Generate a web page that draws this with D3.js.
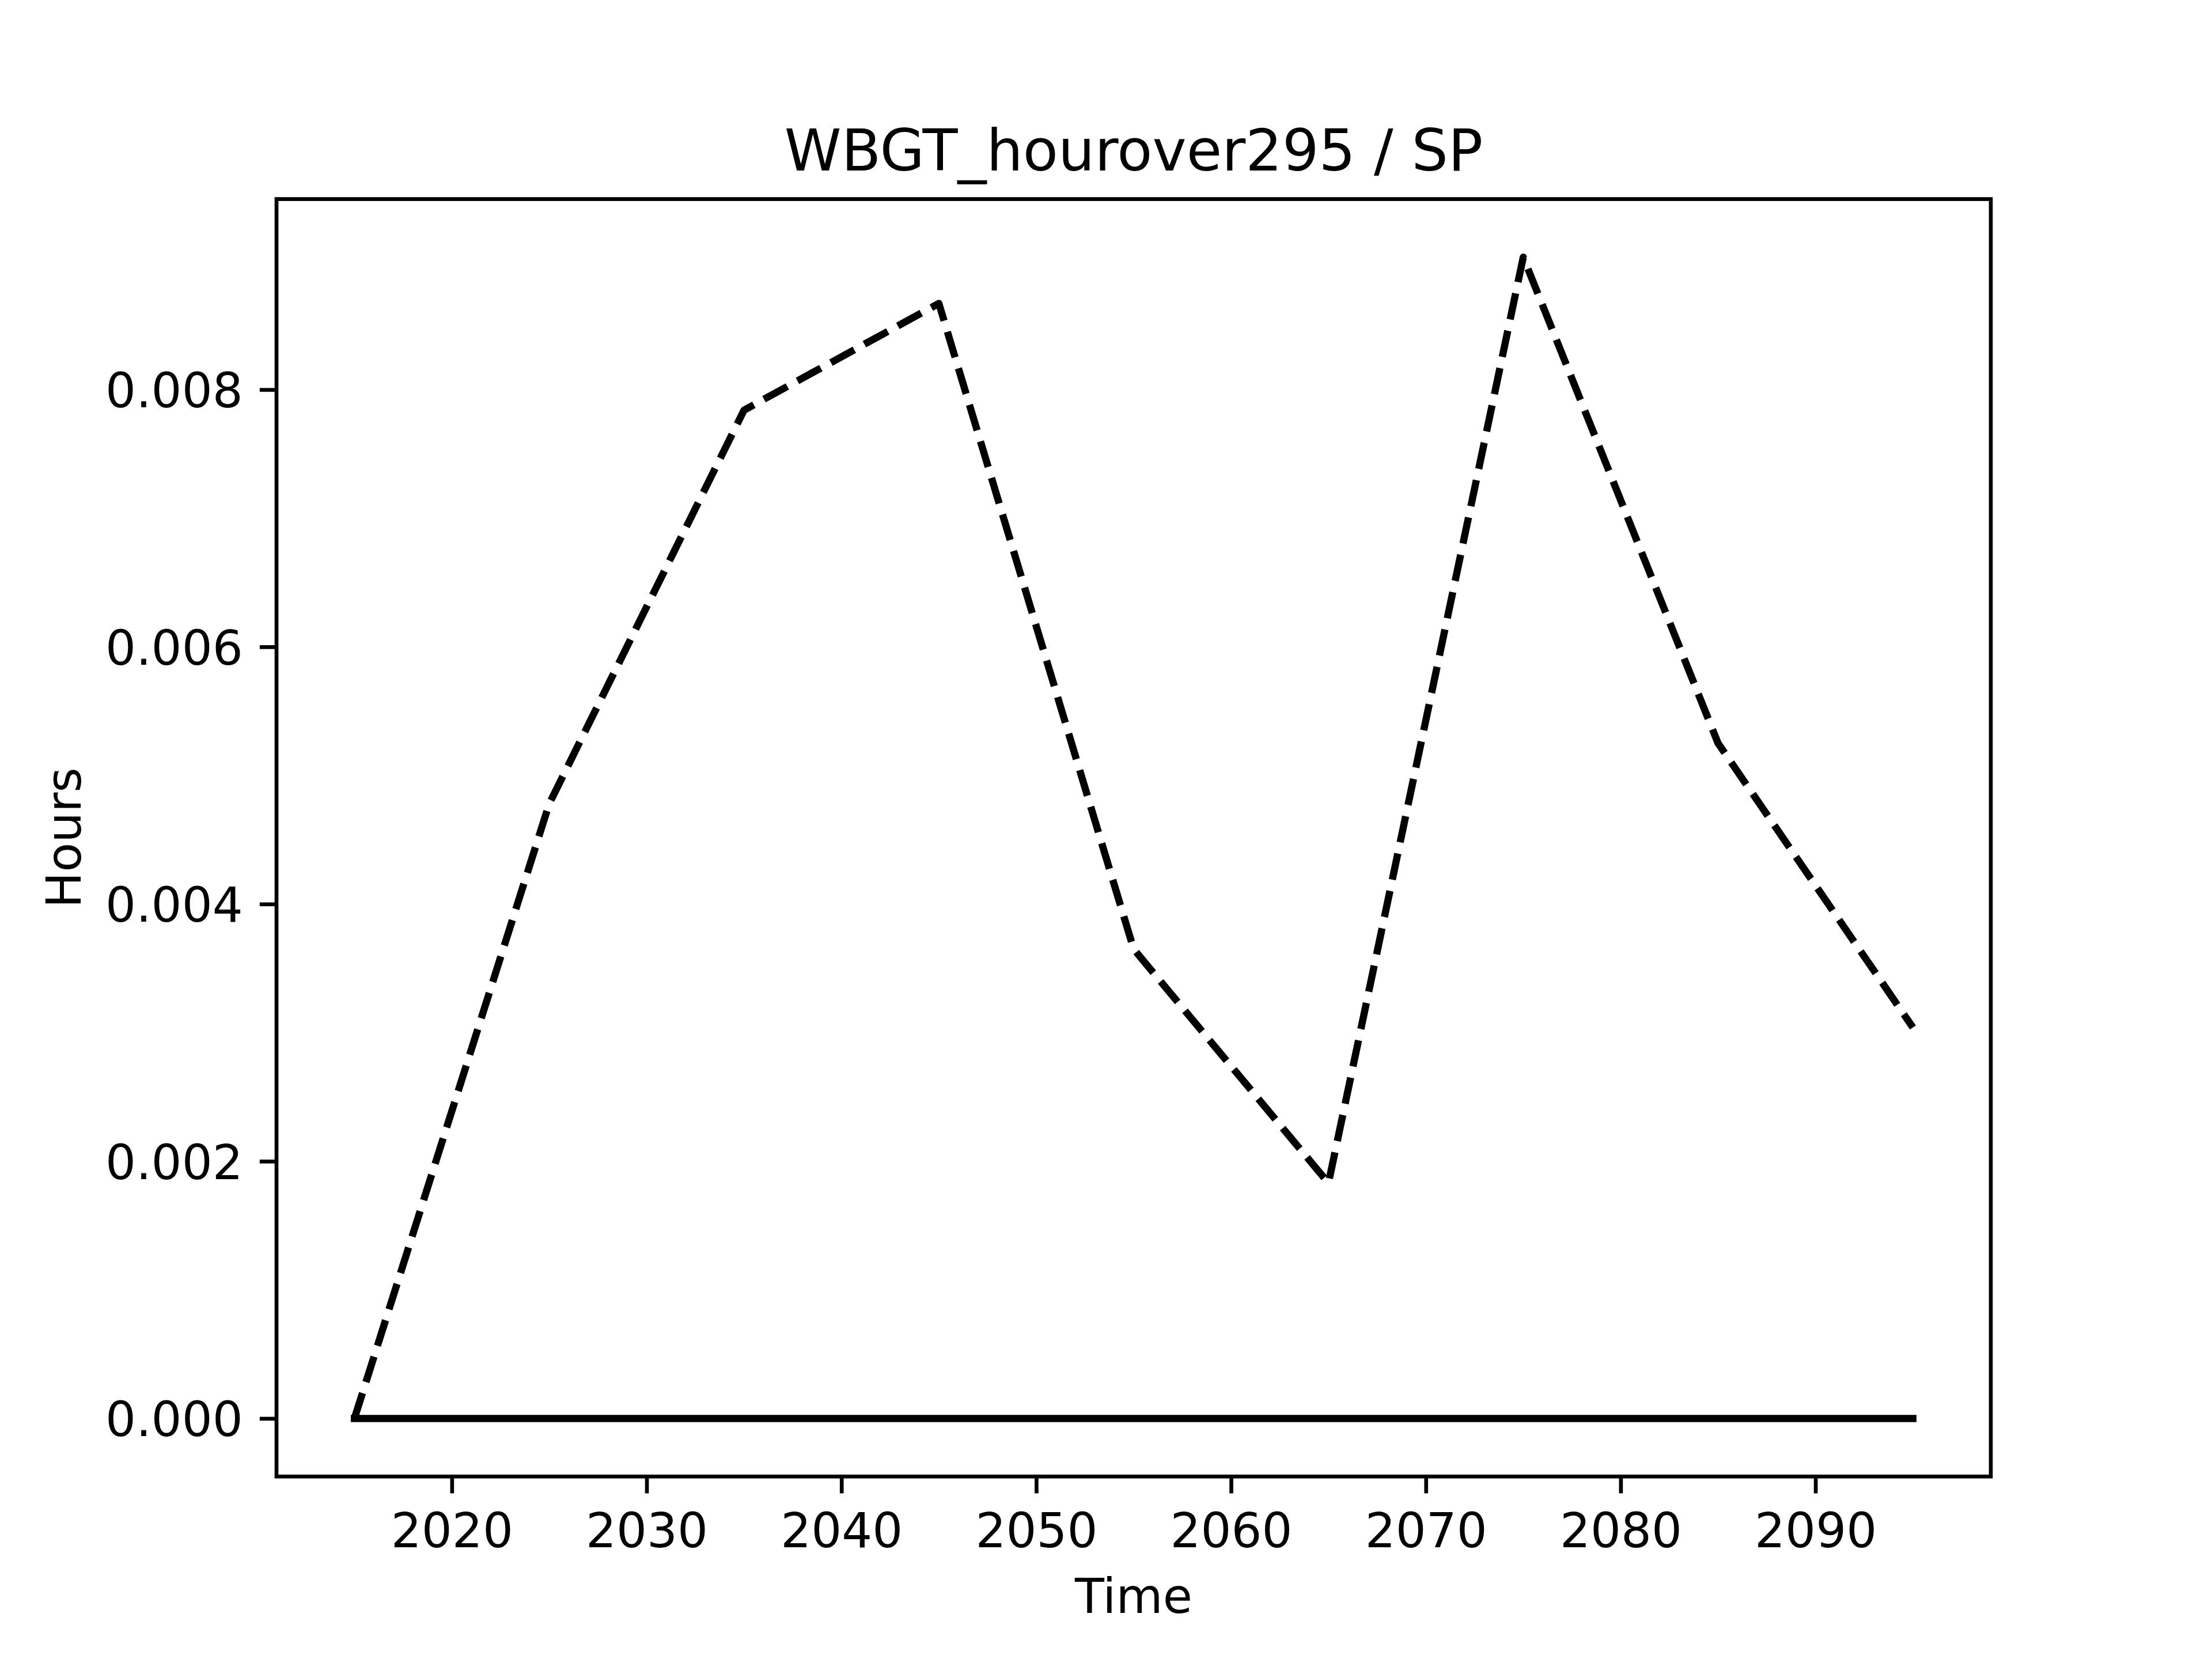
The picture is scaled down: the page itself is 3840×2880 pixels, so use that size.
<!DOCTYPE html>
<html>
<head>
<meta charset="utf-8">
<script src="https://cdn.jsdelivr.net/npm/d3@7"></script>
<style>
  html, body { margin: 0; padding: 0; background: #ffffff; }
  svg { display: block; }
  text { font-family: "DejaVu Sans", sans-serif; fill: #000; }
</style>
</head>
<body>
<script>
// ---- data ----
const years = [2015, 2025, 2035, 2045, 2055, 2065, 2075, 2085, 2095];
const dashedValues = [0, 0.00478, 0.00784, 0.00867, 0.00365, 0.00183, 0.00903, 0.00525, 0.00304];
const solidValues = [0, 0, 0, 0, 0, 0, 0, 0, 0];
const xTicks = [2020, 2030, 2040, 2050, 2060, 2070, 2080, 2090];
const yTicks = [0, 0.002, 0.004, 0.006, 0.008];
const titleText = "WBGT_hourover295 / SP";
const xLabel = "Time";
const yLabel = "Hours";

(function () {
// ---- layout ----
const W = 3840, H = 2880;
const axLeft = 480, axRight = 3456, axTop = 345.6, axBottom = 2563.2;
const pt = 600 / 72;

const svg = d3.select("body").append("svg").attr("width", W).attr("height", H);
svg.append("rect").attr("width", W).attr("height", H).attr("fill", "#fff");

const xMin = d3.min(years), xMax = d3.max(years);
const xPad = (xMax - xMin) * 0.05;
const x = d3.scaleLinear().domain([xMin - xPad, xMax + xPad]).range([axLeft, axRight]);

const allY = dashedValues.concat(solidValues);
const yMin = d3.min(allY), yMax = d3.max(allY);
const yPad = (yMax - yMin) * 0.05;
const y = d3.scaleLinear().domain([yMin - yPad, yMax + yPad]).range([axBottom, axTop]);

const fontSize = 10 * pt;
const tickLen = 3.5 * pt, tickPad = 3.5 * pt;

// lines
const line = d3.line().x((d, i) => x(years[i])).y(d => y(d));
svg.append("clipPath").attr("id", "clip").append("rect")
  .attr("x", axLeft).attr("y", axTop).attr("width", axRight - axLeft).attr("height", axBottom - axTop);
const g = svg.append("g").attr("clip-path", "url(#clip)");
g.append("path").datum(solidValues).attr("d", line)
  .attr("fill", "none").attr("stroke", "#000").attr("stroke-width", 1.5 * pt)
  .attr("stroke-linecap", "square").attr("stroke-linejoin", "round");
g.append("path").datum(dashedValues).attr("d", line)
  .attr("fill", "none").attr("stroke", "#000").attr("stroke-width", 1.5 * pt)
  .attr("stroke-dasharray", `${3.7 * 1.5 * pt},${1.6 * 1.5 * pt}`)
  .attr("stroke-linecap", "butt").attr("stroke-linejoin", "round");

// x axis
const xAxis = d3.axisBottom(x).tickValues(xTicks).tickSize(tickLen).tickPadding(tickPad).tickFormat(d3.format("d"));
const gx = svg.append("g").attr("transform", `translate(0,${axBottom})`).call(xAxis);
gx.select(".domain").remove();
gx.selectAll(".tick line").attr("stroke", "#000").attr("stroke-width", 0.8 * pt);
gx.selectAll(".tick text").attr("font-size", fontSize).attr("font-family", "DejaVu Sans")
  .attr("dy", null).attr("y", 2686 - axBottom).attr("fill", "#000");

// y axis
const yAxis = d3.axisLeft(y).tickValues(yTicks).tickSize(tickLen).tickPadding(tickPad).tickFormat(d3.format(".3f"));
const gy = svg.append("g").attr("transform", `translate(${axLeft},0)`).call(yAxis);
gy.select(".domain").remove();
gy.selectAll(".tick line").attr("stroke", "#000").attr("stroke-width", 0.8 * pt);
gy.selectAll(".tick text").attr("font-size", fontSize).attr("font-family", "DejaVu Sans")
  .attr("dy", null).attr("y", 30.4).attr("x", -(tickLen + tickPad)).attr("fill", "#000");

// frame
svg.append("rect").attr("x", axLeft).attr("y", axTop).attr("width", axRight - axLeft).attr("height", axBottom - axTop)
  .attr("fill", "none").attr("stroke", "#000").attr("stroke-width", 0.8 * pt);

// title and labels
svg.append("text").attr("x", (axLeft + axRight) / 2).attr("y", 295.6)
  .attr("text-anchor", "middle").attr("font-size", 12 * pt).text(titleText);
svg.append("text").attr("x", (axLeft + axRight) / 2).attr("y", 2800)
  .attr("text-anchor", "middle").attr("font-size", fontSize).text(xLabel);
svg.append("text").attr("transform", `translate(140,${(axTop + axBottom) / 2}) rotate(-90)`)
  .attr("text-anchor", "middle").attr("font-size", fontSize).text(yLabel);
})();
</script>
</body>
</html>
